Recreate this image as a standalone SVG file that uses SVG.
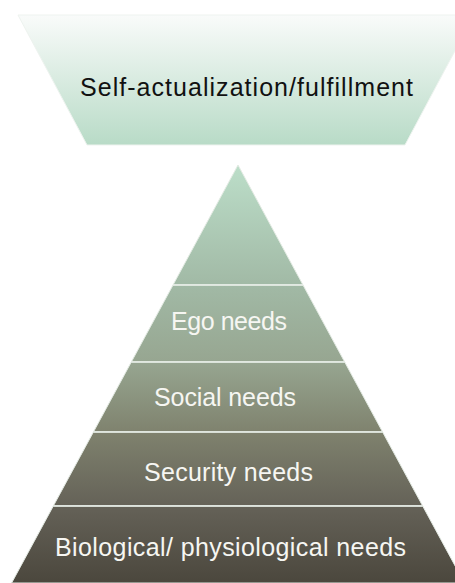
<svg xmlns="http://www.w3.org/2000/svg" width="455" height="583" viewBox="0 0 455 583">
  <defs>
    <linearGradient id="gTop" gradientUnits="userSpaceOnUse" x1="0" y1="15" x2="0" y2="145">
      <stop offset="0" stop-color="#f9fbfa"/>
      <stop offset="1" stop-color="#b8dbc7"/>
    </linearGradient>
    <linearGradient id="gPyr" gradientUnits="userSpaceOnUse" x1="0" y1="165" x2="0" y2="583">
      <stop offset="0" stop-color="#bcdec9"/>
      <stop offset="0.29" stop-color="#a1b9a5"/>
      <stop offset="0.47" stop-color="#97a691"/>
      <stop offset="0.64" stop-color="#7f826e"/>
      <stop offset="0.82" stop-color="#646157"/>
      <stop offset="1" stop-color="#4b473d"/>
    </linearGradient>
  </defs>
  <style>
    .band { fill: url(#gPyr); stroke: #e4ebe4; stroke-width: 1; }
    .sep { stroke: #e6ece6; stroke-width: 1.6; }
    .lbl { font-family: "Liberation Sans", Arial, sans-serif; font-size: 25px; fill: #f6f6f2; }
    .lblTop { font-family: "Liberation Sans", Arial, sans-serif; font-size: 25px; fill: #111111; }
  </style>

  <g id="self-actualization">
    <polygon points="18,15 474,15 405,145 87,145" fill="url(#gTop)" stroke="#eef3ef" stroke-width="1"/>
    <text class="lblTop" x="80" y="95.5" textLength="333" lengthAdjust="spacing">Self-actualization/fulfillment</text>
  </g>

  <g id="apex">
    <polygon class="band" points="238,165 303,285 173,285"/>
  </g>

  <g id="ego-needs">
    <polygon class="band" points="173,285 303,285 344.7,362 131.3,362"/>
    <text class="lbl" x="171" y="330" textLength="116" lengthAdjust="spacing">Ego needs</text>
  </g>

  <g id="social-needs">
    <polygon class="band" points="131.3,362 344.7,362 382.6,432 93.4,432"/>
    <text class="lbl" x="154" y="406" textLength="142" lengthAdjust="spacing">Social needs</text>
  </g>

  <g id="security-needs">
    <polygon class="band" points="93.4,432 382.6,432 422.7,506 53.3,506"/>
    <text class="lbl" x="144" y="481" textLength="169" lengthAdjust="spacing">Security needs</text>
  </g>

  <g id="biological-needs">
    <polygon class="band" points="53.3,506 422.7,506 464.4,583 11.6,583"/>
    <text class="lbl" x="55" y="556" textLength="351" lengthAdjust="spacing">Biological/ physiological needs</text>
  </g>

  <g id="connectors">
    <line class="sep" x1="173" y1="285" x2="303" y2="285"/>
    <line class="sep" x1="131.3" y1="362" x2="344.7" y2="362"/>
    <line class="sep" x1="93.4" y1="432" x2="382.6" y2="432"/>
    <line class="sep" x1="53.3" y1="506" x2="422.7" y2="506"/>
  </g>
</svg>
